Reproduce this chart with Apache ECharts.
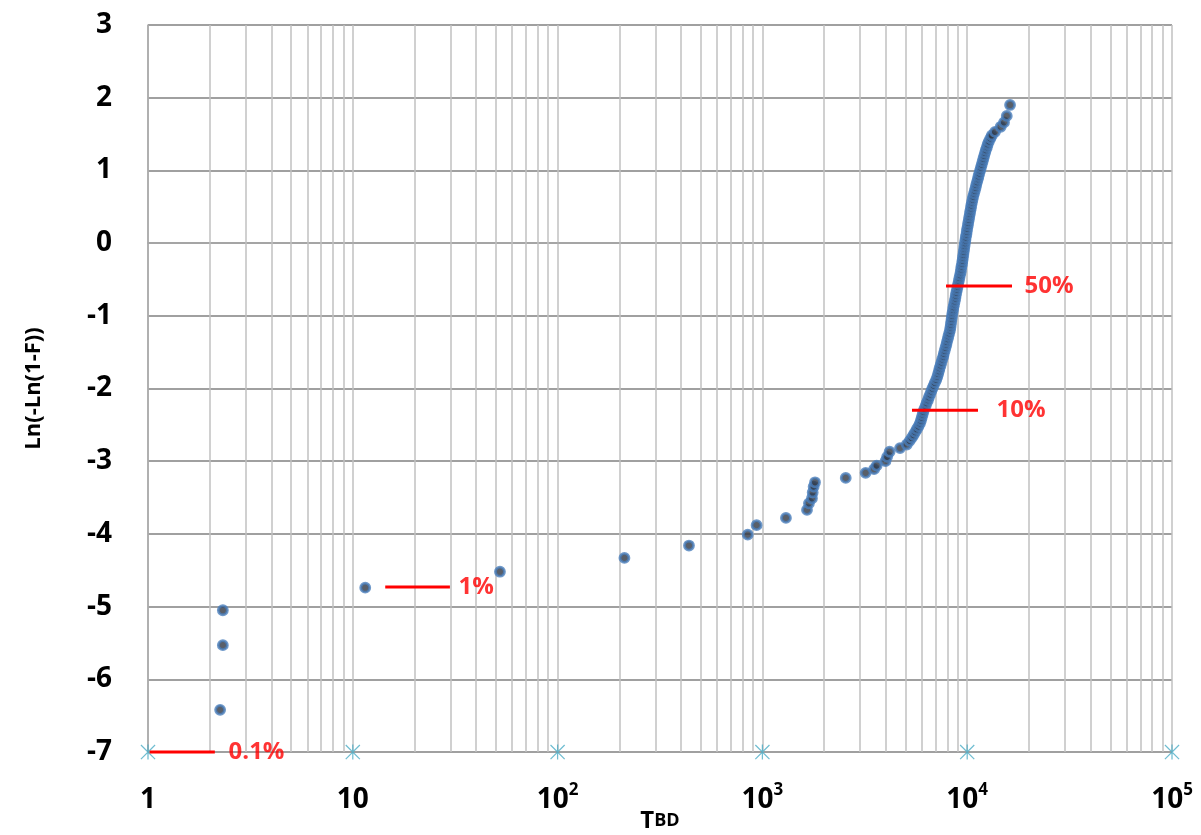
<!DOCTYPE html>
<html>
<head>
<meta charset="utf-8">
<script src="https://cdn.jsdelivr.net/npm/echarts@6/dist/echarts.min.js"></script>
<style>html,body{margin:0;padding:0;background:#fff;}#c{width:1201px;height:835px;}</style>
</head>
<body>
<div id="c"></div>
<script>
// Breakdown times (x) and Weibull ordinate Ln(-Ln(1-F)) (y)
const tbdValues = [
  2.25, 2.32, 2.32, 11.5, 52.3, 212, 438, 848, 937, 1303,
  1651, 1687, 1746, 1760, 1779, 1807, 2552, 3192, 3510, 3614,
  3990, 4065, 4180, 4700, 5070,
  5236, 5358, 5470, 5572, 5675, 5781, 5875, 5943, 5998, 6053,
  6109, 6180, 6266, 6339, 6427, 6501, 6592, 6668, 6761, 6855,
  6950, 7063, 7145, 7211, 7278, 7328, 7413, 7482, 7551, 7638,
  7691, 7762, 7834, 7907, 7962, 8035, 8091, 8166, 8241, 8279,
  8318, 8356, 8395, 8433, 8472, 8531, 8570, 8630, 8690, 8750,
  8790, 8851, 8913, 8974, 9036, 9099, 9162, 9226, 9290, 9333,
  9376, 9441, 9484, 9528, 9572, 9616, 9661, 9705, 9750, 9795,
  9840, 9908, 9954, 10000, 10069, 10116, 10186, 10233, 10304, 10351,
  10423, 10471, 10544, 10617, 10691, 10789, 10889, 10990, 11066, 11169,
  11272, 11350, 11455, 11561, 11668, 11776, 11885, 11995, 12106, 12218,
  12331, 12474, 12589, 12764, 12972, 13183,
  13670, 14570, 15130, 15600, 16190
];
const lnLnValues = [
  -6.42, -5.53, -5.05, -4.74, -4.52, -4.33, -4.16, -4.01, -3.88, -3.78,
  -3.67, -3.58, -3.51, -3.43, -3.35, -3.29, -3.23, -3.16, -3.11, -3.06,
  -3.00, -2.94, -2.87, -2.82, -2.77,
  -2.72, -2.68, -2.64, -2.60, -2.56, -2.52, -2.48, -2.44, -2.40, -2.36,
  -2.32, -2.28, -2.24, -2.20, -2.16, -2.12, -2.08, -2.04, -2.00, -1.96,
  -1.92, -1.88, -1.84, -1.80, -1.76, -1.72, -1.68, -1.64, -1.60, -1.56,
  -1.52, -1.48, -1.44, -1.40, -1.36, -1.32, -1.28, -1.24, -1.20, -1.16,
  -1.12, -1.08, -1.04, -1.00, -0.96, -0.92, -0.88, -0.84, -0.80, -0.76,
  -0.72, -0.68, -0.64, -0.60, -0.56, -0.52, -0.48, -0.44, -0.40, -0.36,
  -0.32, -0.28, -0.24, -0.20, -0.16, -0.12, -0.08, -0.04, 0.00, 0.04,
  0.08, 0.12, 0.16, 0.20, 0.24, 0.28, 0.32, 0.36, 0.40, 0.44,
  0.48, 0.52, 0.56, 0.60, 0.64, 0.68, 0.72, 0.76, 0.80, 0.84,
  0.88, 0.92, 0.96, 1.00, 1.04, 1.08, 1.12, 1.16, 1.20, 1.24,
  1.28, 1.32, 1.36, 1.40, 1.44, 1.48,
  1.53, 1.60, 1.66, 1.75, 1.90
];

// Decade markers on the bottom axis
const decadeMarks = [1, 10, 100, 1000, 10000, 100000];
const decadeMarkY = -7;

// Percentile reference lines
const pctLabels = ['0.1%', '1%', '10%', '50%'];
const pctY = [-7.0, -4.73, -2.30, -0.59];
const pctLineStart = [1.02, 14.4, 5375, 7880];
const pctLineEnd = [2.12, 29.8, 11290, 16550];
const pctLabelX = [2.46, 32.6, 13830, 18930];

// Axis ticks
const yMin = -7, yMax = 3, yStep = 1;
const xMin = 1, xMax = 100000;
const minorMultipliers = [2, 3, 4, 5, 6, 7, 8, 9];

const minorGrid = [];
for (let d = xMin; d < xMax; d *= 10) {
  minorMultipliers.forEach(m => minorGrid.push({ xAxis: d * m }));
}

const FONT = '"Open Sans", Lato, sans-serif';
const chart = echarts.init(document.getElementById('c'), null, { renderer: 'canvas' });

const starPath = 'path://M11,0 L13,0 L13,24 L11,24 Z M1.4,0 L24,22.6 L22.6,24 L0,1.4 Z M22.6,0 L24,1.4 L1.4,24 L0,22.6 Z';

const series = [
  {
    type: 'line',
    data: [],
    silent: true,
    markLine: {
      silent: true,
      symbol: ['none', 'none'],
      label: { show: false },
      lineStyle: { color: '#c0c0c0', width: 1.5, type: 'solid' },
      emphasis: { disabled: true },
      animation: false,
      data: minorGrid
    },
    z: 1
  },
  {
    type: 'scatter',
    data: tbdValues.map((x, i) => [x, lnLnValues[i]]),
    symbol: 'circle',
    symbolSize: 9,
    itemStyle: { color: '#2f3743', borderColor: '#4a7ebb', borderWidth: 2.8 },
    z: 5,
    animation: false
  },
  {
    type: 'scatter',
    data: decadeMarks.map(x => [x, decadeMarkY]),
    symbol: starPath,
    symbolSize: 15,
    itemStyle: { color: '#4bacc6' },
    clip: false,
    z: 6,
    animation: false
  }
];

pctLabels.forEach((lab, i) => {
  series.push({
    type: 'line',
    data: [[pctLineStart[i], pctY[i]], [pctLineEnd[i], pctY[i]]],
    symbol: 'none',
    lineStyle: { color: '#ff0000', width: 3 },
    clip: false,
    z: 7,
    animation: false,
    silent: true
  });
});

series.push({
  type: 'scatter',
  data: pctLabels.map((lab, i) => ({ value: [pctLabelX[i], pctY[i]], name: lab })),
  symbolSize: 1,
  itemStyle: { color: 'rgba(0,0,0,0)' },
  clip: false,
  z: 8,
  animation: false,
  silent: true,
  label: {
    show: true,
    position: 'right',
    distance: 0,
    formatter: p => p.name,
    color: '#ff0000',
    fontFamily: FONT,
    fontWeight: 'bold',
    fontSize: 24
  }
});

const supMap = { 100: '2', 1000: '3', 10000: '4', 100000: '5' };

chart.setOption({
  backgroundColor: '#ffffff',
  animation: false,
  grid: { left: 148, right: 29, top: 25, bottom: 83, outerBoundsMode: 'none', containLabel: false },
  xAxis: {
    type: 'log',
    logBase: 10,
    min: xMin,
    max: xMax,
    name: '{t|T}{s|BD}',
    nameLocation: 'middle',
    nameGap: 56,
    nameMoveOverlap: false,
    nameTextStyle: {
      lineHeight: 26,
      rich: {
        t: { fontFamily: FONT, fontWeight: 'bold', fontSize: 24, color: '#000', lineHeight: 26 },
        s: { fontFamily: FONT, fontWeight: 'bold', fontSize: 18, color: '#000', lineHeight: 26 }
      }
    },
    axisLine: { show: true, lineStyle: { color: '#a6a6a6', width: 1.5 } },
    axisTick: { show: false },
    splitLine: { show: true, lineStyle: { color: '#c0c0c0', width: 1.5 } },
    axisLabel: {
      margin: 30,
      formatter: v => {
        if (v === 1) return '{b|1}';
        if (v === 10) return '{b|10}';
        const s = supMap[Math.round(v)];
        return s ? '{b|10}{p|' + s + '}' : '';
      },
      rich: {
        b: { fontFamily: FONT, fontWeight: 'bold', fontSize: 28, color: '#000', lineHeight: 32, verticalAlign: 'bottom' },
        p: { fontFamily: FONT, fontWeight: 'bold', fontSize: 17, color: '#000', lineHeight: 32, verticalAlign: 'top' }
      }
    }
  },
  yAxis: {
    type: 'value',
    min: yMin,
    max: yMax,
    interval: yStep,
    name: 'Ln(-Ln(1-F))',
    nameLocation: 'middle',
    nameGap: 103,
    nameTextStyle: { fontFamily: FONT, fontWeight: 'bold', fontSize: 22, color: '#000' },
    axisLine: { show: true, lineStyle: { color: '#a6a6a6', width: 1.5 } },
    axisTick: { show: false },
    splitLine: { show: true, lineStyle: { color: '#a0a0a0', width: 2 } },
    axisLabel: {
      margin: 36,
      fontFamily: FONT,
      fontWeight: 'bold',
      fontSize: 28,
      color: '#000'
    }
  },
  series: series
});
</script>
</body>
</html>
